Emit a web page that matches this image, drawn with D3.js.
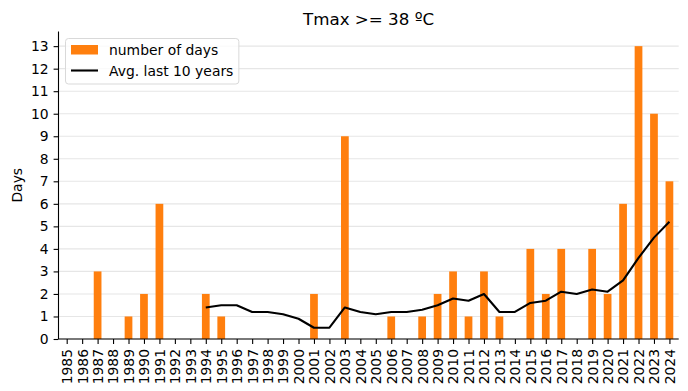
<!DOCTYPE html>
<html><head><meta charset="utf-8">
<script src="https://cdn.jsdelivr.net/npm/d3@7"></script>
<style>body{margin:0;background:#fff}svg{display:block}text{font-family:"DejaVu Sans",sans-serif}</style>
</head><body>
<script>
const years = d3.range(1985, 2025);
const days = [0,0,3,0,1,2,6,0,0,2, 1,0,0,0,0,0,2,0,9,0, 0,1,0,1,2,3,1,3,1,0, 4,2,4,0,4,2,6,13,10,7];
const avgYears = d3.range(1994, 2025);
const avg10 = [1.4,1.5,1.5,1.2,1.2,1.1,0.9,0.5,0.5,1.4,1.2,1.1,1.2,1.2,1.3,1.5,1.8,1.7,2.0,1.2,1.2,1.6,1.7,2.1,2.0,2.2,2.1,2.6,3.6,4.5,5.2];
const yTicks = d3.range(0, 14);
const title = "Tmax >= 38 ºC";

const W = 688, H = 391;
const L = 58.5, R = 678.7, T = 31.5, B = 339;
const FS = 13.9;
const svg = d3.select("body").append("svg").attr("width", W).attr("height", H);
const x = d3.scaleLinear().domain([-0.53, 39.6]).range([L, R]);
const y = d3.scaleLinear().domain([0, 13.65]).range([B, T]);

// grid
svg.append("g").selectAll("line").data(yTicks).join("line")
  .attr("x1", L).attr("x2", R).attr("y1", d => y(d)).attr("y2", d => y(d))
  .attr("stroke", "#e6e6e6").attr("stroke-width", 1.1);

// bars
const bw = x(0.5) - x(0);
svg.append("g").selectAll("rect").data(days).join("rect")
  .attr("x", (d, i) => x(i) - bw / 2).attr("width", bw)
  .attr("y", d => y(d)).attr("height", d => y(0) - y(d))
  .attr("fill", "#ff7f0e");

// line
const line = d3.line().x((d, i) => x(avgYears[i] - 1985)).y(d => y(d));
svg.append("path").datum(avg10).attr("d", line)
  .attr("fill", "none").attr("stroke", "#000").attr("stroke-width", 2.1).attr("stroke-linejoin", "round");

// axes
const yAxis = d3.axisLeft(y).tickValues(yTicks).tickSize(4.9).tickPadding(4.9);
const gy = svg.append("g").attr("transform", `translate(${L},0)`).call(yAxis);
gy.select(".domain").attr("d", `M0,${B}V${T}`);
gy.selectAll("text").attr("font-size", FS).attr("fill", "#000").attr("font-family", "DejaVu Sans");

const xAxis = d3.axisBottom(x).tickValues(d3.range(0, 40)).tickFormat(i => years[i]).tickSize(4.9).tickPadding(4.9);
const gx = svg.append("g").attr("transform", `translate(0,${B})`).call(xAxis);
gx.select(".domain").attr("d", `M${L},0H${R}`);
gx.selectAll("text").attr("font-size", FS).attr("fill", "#000").attr("font-family", "DejaVu Sans")
  .attr("transform", "rotate(-90)").attr("text-anchor", "end").attr("x", -10).attr("y", 0).attr("dy", "0.35em");
svg.selectAll(".domain, .tick line").attr("stroke", "#000").attr("stroke-width", 1.1);

// title and ylabel
svg.append("text").attr("x", (L + R) / 2).attr("y", 25).attr("text-anchor", "middle")
  .attr("font-size", 16.7).text(title);
svg.append("text").attr("transform", `translate(22,${(T + B) / 2}) rotate(-90)`).attr("text-anchor", "middle")
  .attr("font-size", FS).text("Days");

// legend
const lg = svg.append("g");
const box = lg.append("rect").attr("x", 65.5).attr("y", 38.5).attr("height", 45.5).attr("rx", 3)
  .attr("fill", "#fff").attr("fill-opacity", 0.8).attr("stroke", "#d9d9d9");
lg.append("rect").attr("x", 71).attr("y", 45).attr("width", 27).attr("height", 9.5).attr("fill", "#ff7f0e");
lg.append("line").attr("x1", 71).attr("x2", 98).attr("y1", 70.5).attr("y2", 70.5).attr("stroke", "#000").attr("stroke-width", 2.1);
lg.append("text").attr("x", 109).attr("y", 55).attr("font-size", FS).text("number of days");
const t2 = lg.append("text").attr("x", 109).attr("y", 76).attr("font-size", FS).text("Avg. last 10 years");
const bb = t2.node().getBBox();
box.attr("width", bb.x + bb.width + 5.5 - 65.5);
</script>
</body></html>
